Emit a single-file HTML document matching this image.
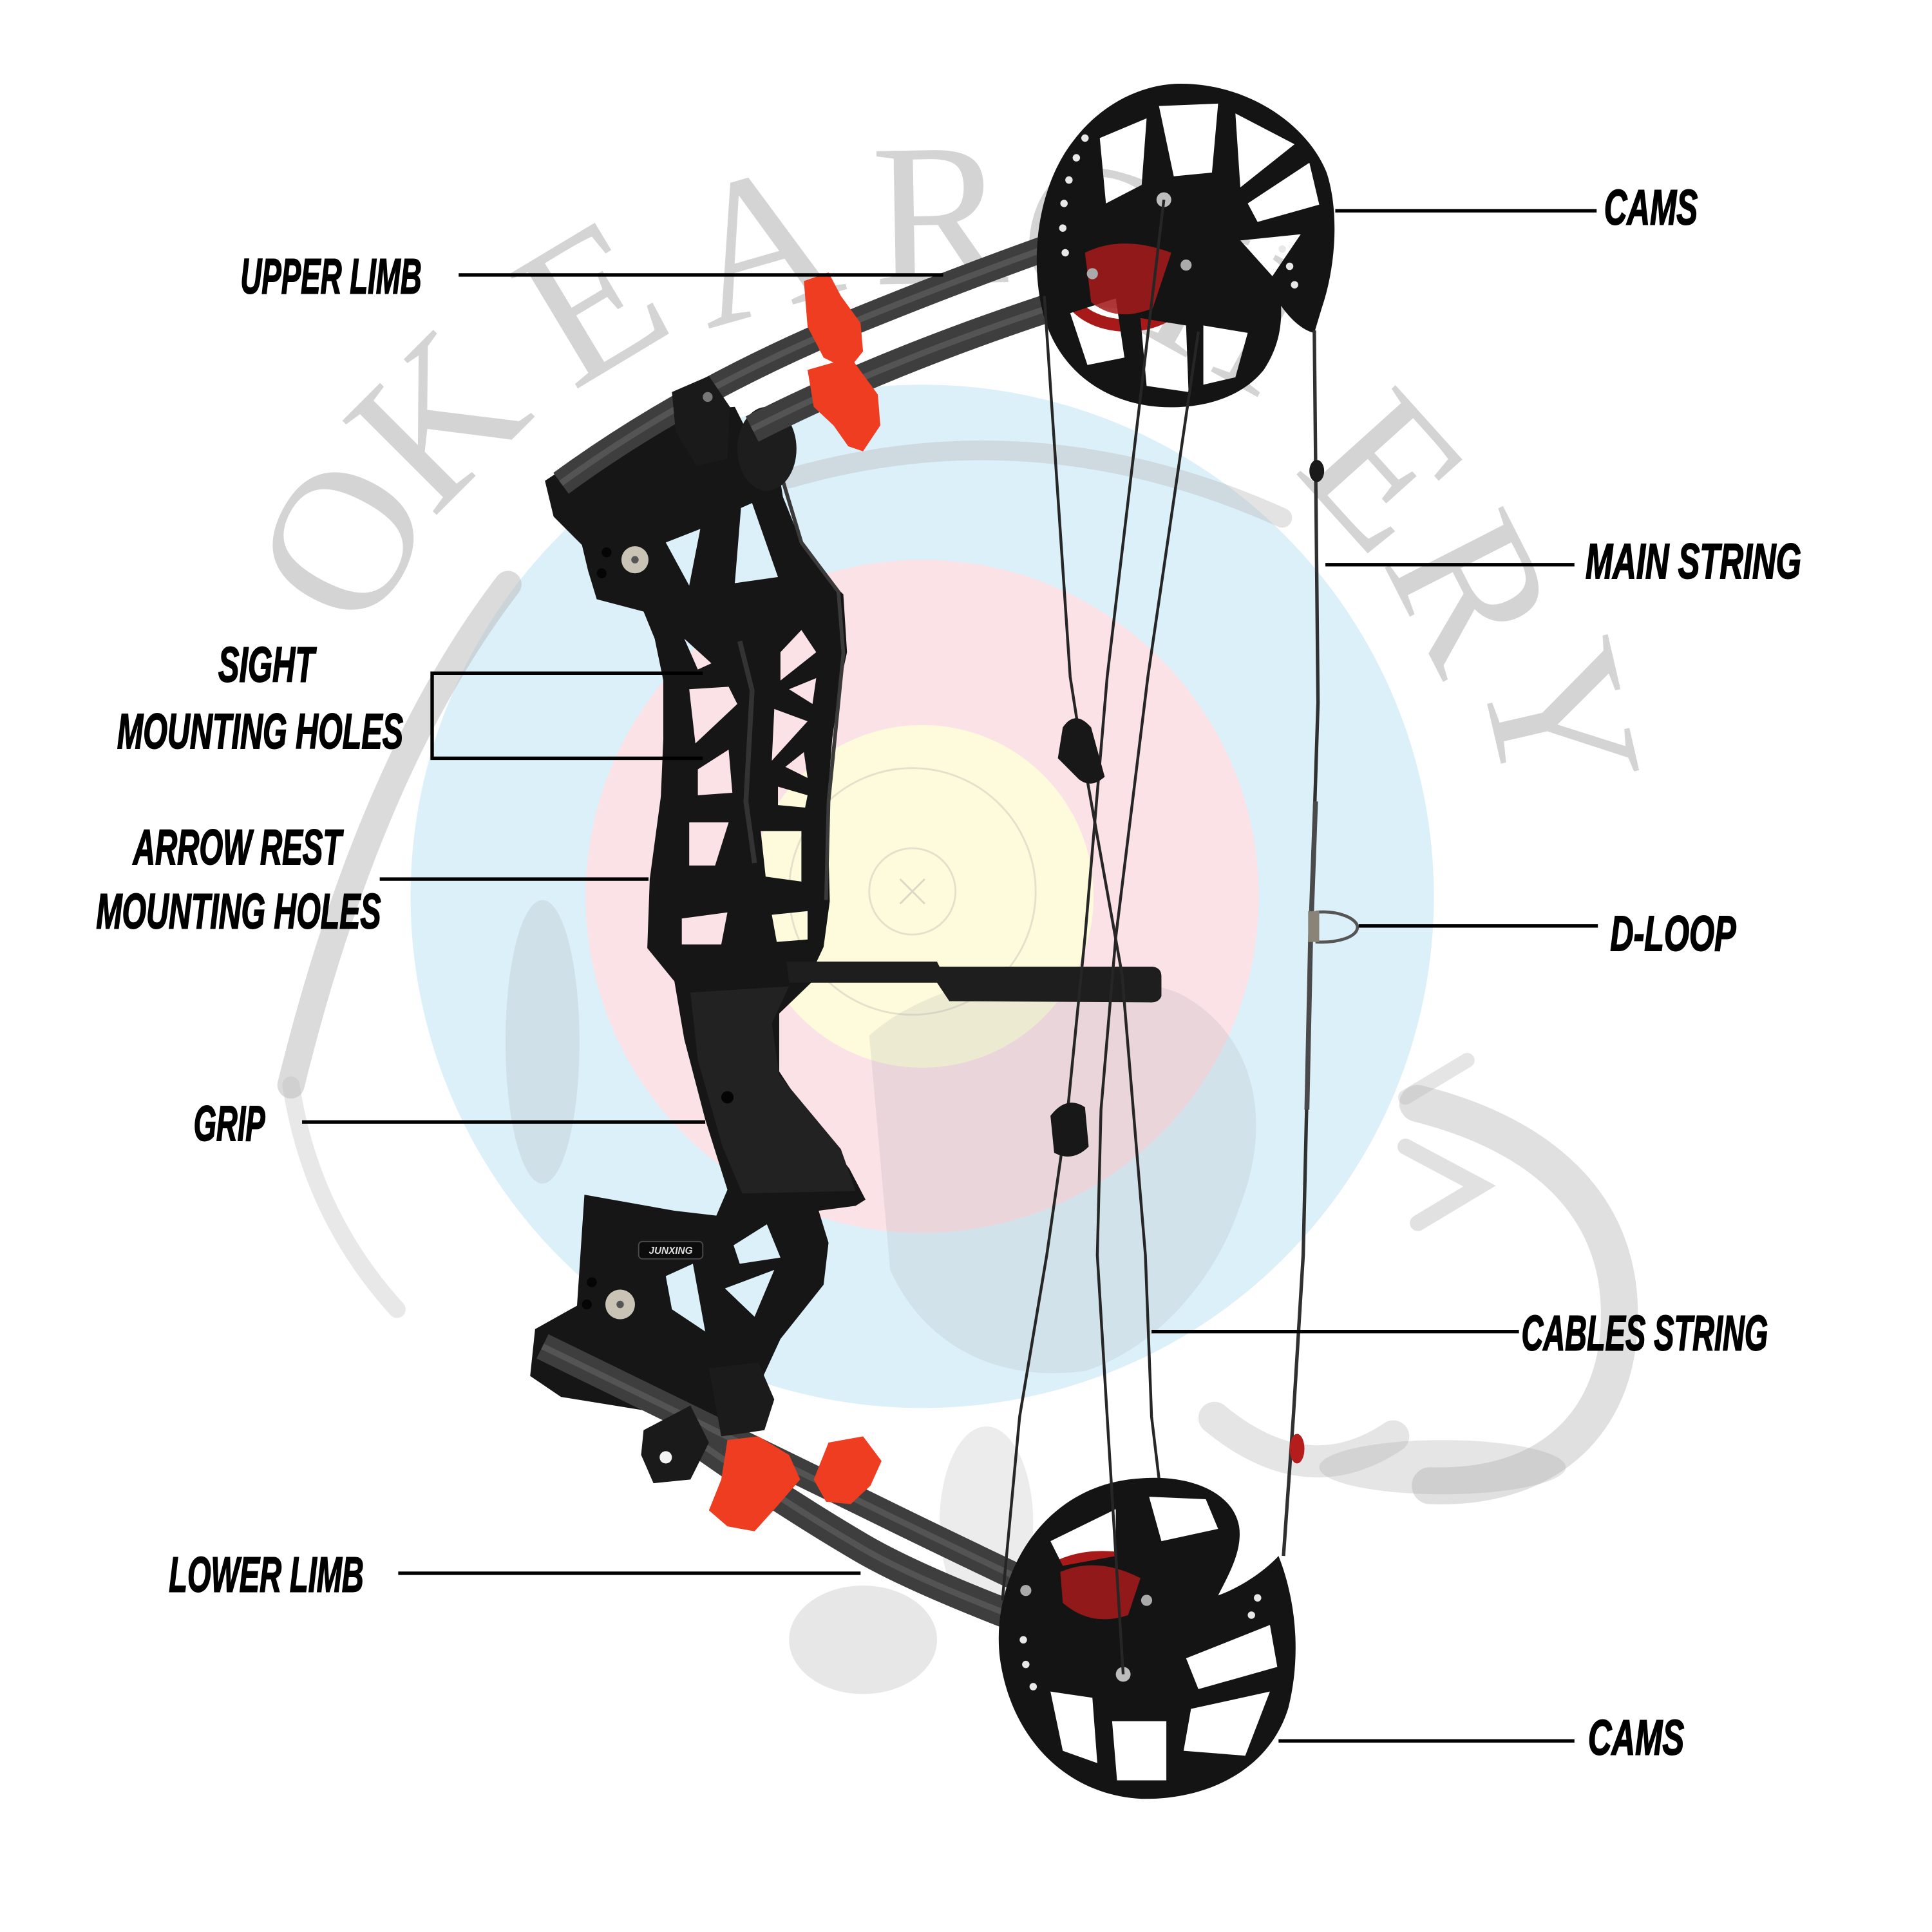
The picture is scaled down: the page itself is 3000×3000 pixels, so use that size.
<!DOCTYPE html>
<html>
<head>
<meta charset="utf-8">
<style>
html,body{margin:0;padding:0;background:#fff;}
svg{display:block;}
</style>
</head>
<body>
<svg xmlns="http://www.w3.org/2000/svg" width="3000" height="3000" viewBox="0 0 1567 1567">
<rect x="0" y="0" width="1567" height="1567" fill="#ffffff"/>

<!-- target -->
<g>
  <circle cx="748" cy="727" r="415" fill="#dcf0fa"/>
  <circle cx="748" cy="727" r="273" fill="#fbe2e6"/>
  <circle cx="748" cy="727" r="139" fill="#fdfbdb"/>
  <circle cx="740" cy="723" r="100" fill="none" stroke="#e4e0cc" stroke-width="1.5"/>
  <circle cx="740" cy="723" r="35" fill="none" stroke="#e4e0cc" stroke-width="1.5"/>
  <path d="M730,713 L750,733 M750,713 L730,733" stroke="#ddd8c4" stroke-width="1.5"/>
</g>

<!-- watermark letters -->
<g font-family="'Liberation Serif', serif" font-size="165" fill="#9a9a9a" opacity="0.42" text-anchor="middle">
  <text x="275" y="437" dy="0.35em" transform="rotate(-62 275 437)">O</text>
  <text x="352" y="338" dy="0.35em" transform="rotate(-45 352 338)">K</text>
  <text x="478" y="242" dy="0.35em" transform="rotate(-31 478 242)">E</text>
  <text x="615" y="195" dy="0.35em" transform="rotate(-16 615 195)">A</text>
  <text x="762" y="172" dy="0.35em" transform="rotate(-1 762 172)">R</text>
  <text x="885" y="187" dy="0.35em" transform="rotate(13 885 187)">C</text>
  <text x="1000" y="245" dy="0.35em" transform="rotate(29 1000 245)">H</text>
  <text x="1125" y="380" dy="0.35em" transform="rotate(48 1125 380)">E</text>
  <text x="1197" y="478" dy="0.35em" transform="rotate(63 1197 478)">R</text>
  <text x="1268" y="582" dy="0.35em" transform="rotate(77 1268 582)">Y</text>
</g>

<!-- watermark animal shapes -->
<g fill="none" stroke-linecap="round">
  <path d="M412,474 Q300,620 236,880" stroke="#b8b8b8" stroke-width="22" opacity="0.5"/>
  <path d="M236,880 Q252,985 322,1062" stroke="#bdbdbd" stroke-width="14" opacity="0.35"/>
  <path d="M640,388 Q840,330 1040,420" stroke="#b8b8b8" stroke-width="16" opacity="0.4"/>
  <path d="M1150,895 C1250,920 1325,980 1312,1090 C1302,1165 1245,1208 1160,1205" stroke="#b5b5b5" stroke-width="30" opacity="0.42"/>
  <path d="M1140,930 L1200,962 L1150,992" stroke="#b5b5b5" stroke-width="13" opacity="0.4"/>
  <path d="M1140,890 L1190,860" stroke="#b5b5b5" stroke-width="12" opacity="0.35"/>
  <path d="M985,1150 Q1060,1212 1130,1165" stroke="#b5b5b5" stroke-width="26" opacity="0.35"/>
</g>
<g fill="#a8a8a8">
  <ellipse cx="440" cy="845" rx="30" ry="115" opacity="0.22"/>
  <path d="M705,840 C760,790 870,775 955,805 C1015,835 1035,905 1005,980 C985,1040 935,1095 880,1112 C805,1122 748,1088 722,1030 Z" opacity="0.2"/>
  <ellipse cx="700" cy="1330" rx="60" ry="44" opacity="0.28"/>
  <ellipse cx="1170" cy="1190" rx="100" ry="22" opacity="0.3"/>
  <ellipse cx="800" cy="1235" rx="38" ry="78" opacity="0.22"/>
</g>

<!-- riser -->
<path fill="#161616" fill-rule="evenodd" d="
M442,390 L478,366 L540,334 L596,330 L614,366 L631,378 L635,403 L652,445 L671,470 L684,482 L687,529 L682,552 L675,599 L671,653 L673,731 L668,768 L660,785 L659,796 L632,822 L632,869 L655,904 L689,948 L702,973 L694,978 L664,982 L672,1008 L668,1042 L633,1086 L615,1125 L600,1150 L560,1150 L455,1133 L430,1116 L434,1078 L468,1059 L474,969 L547,982 L581,986 L590,965 L572,908 L555,843 L547,796 L525,769 L527,713 L536,646 L538,599 L538,552 L531,518 L522,496 L484,486 L477,463 L472,442 L449,419 Z
M540,440 L568,429 L559,475 Z
M601,412 L610,408 L631,468 L596,473 Z
M555,518 L577,538 L566,543 Z
M559,559 L591,557 L598,571 L564,603 Z
M566,624 L591,608 L594,643 L566,645 Z
M633,529 L650,511 L662,529 L633,552 Z
M640,559 L662,550 L659,571 Z
M628,575 L655,585 L626,617 Z
M637,622 L652,610 L655,631 Z
M631,638 L655,645 L653,655 L631,653 Z
M559,667 L591,667 L580,702 L559,702 Z
M617,674 L650,674 L650,715 L621,711 Z
M553,745 L590,740 L585,766 L553,766 Z
M626,742 L655,739 L655,762 L630,764 Z
M595,1010 L622,993 L633,1020 L600,1025 Z
M540,1035 L562,1025 L572,1080 L545,1062 Z
M588,1045 L628,1030 L612,1068 Z
"/>
<path d="M632,380 L650,440 L680,480 L684,530 L672,650 L670,730" fill="none" stroke="#3a3a3a" stroke-width="3"/>
<path d="M600,520 L610,560 L605,650 L612,700" fill="none" stroke="#333" stroke-width="4"/>
<path d="M560,805 L640,800 L626,830 L632,872 L682,932 L694,966 L602,968 L586,930 L566,860 Z" fill="#222"/>
<circle cx="590" cy="890" r="5" fill="#050505"/>
<circle cx="515" cy="454" r="11" fill="#c9c3b5"/>
<circle cx="515" cy="454" r="3" fill="#555"/>
<circle cx="492" cy="448" r="4" fill="#050505"/>
<circle cx="488" cy="465" r="4" fill="#050505"/>
<circle cx="503" cy="1058" r="12" fill="#c9c3b5"/>
<circle cx="503" cy="1058" r="3" fill="#555"/>
<circle cx="480" cy="1040" r="4" fill="#050505"/>
<circle cx="476" cy="1058" r="4" fill="#050505"/>
<rect x="518" y="1007" width="52" height="14" rx="3" fill="#0c0c0c" stroke="#4a4a4a" stroke-width="1"/>
<text x="544" y="1017" font-family="'Liberation Sans', sans-serif" font-size="8" font-weight="bold" font-style="italic" fill="#ddd" text-anchor="middle">JUNXING</text>

<!-- arrow shelf -->
<path d="M638,780 L760,780 L762,784 L935,784 Q942,785 942,792 L942,808 Q940,813 934,813 L770,812 L760,797 L640,797 Z" fill="#1e1e1e"/>

<!-- upper limb -->
<ellipse cx="622" cy="364" rx="24" ry="34" fill="#1d1d1d"/>
<path d="M455,392 Q560,315 700,258 T1000,150" fill="none" stroke="#3e3e3e" stroke-width="21"/>
<path d="M455,392 Q560,315 700,258 T1000,150" fill="none" stroke="#6a6a6a" stroke-width="5" opacity="0.5"/>
<path d="M610,348 Q720,292 865,245" fill="none" stroke="#3e3e3e" stroke-width="23"/>
<path d="M610,348 Q720,292 865,245" fill="none" stroke="#6a6a6a" stroke-width="5" opacity="0.5"/>
<path d="M545,318 L575,305 L592,330 L590,372 L565,378 L548,350 Z" fill="#1a1a1a"/>
<circle cx="574" cy="322" r="4" fill="#777"/>
<path d="M652,228 L672,221 L682,240 L698,262 L700,285 L688,300 L668,290 L655,265 Z" fill="#ee3d20"/>
<path d="M655,300 L690,290 L712,320 L714,345 L700,366 L688,362 L676,345 L660,330 Z" fill="#ee3d20"/>

<!-- lower limb -->
<path d="M440,1092 Q580,1160 698,1218 T958,1342" fill="none" stroke="#3e3e3e" stroke-width="22"/>
<path d="M440,1092 Q580,1160 698,1218 T958,1342" fill="none" stroke="#6a6a6a" stroke-width="5" opacity="0.5"/>
<path d="M560,1165 Q630,1215 698,1255 T960,1360" fill="none" stroke="#3e3e3e" stroke-width="24"/>
<path d="M560,1165 Q630,1215 698,1255 T960,1360" fill="none" stroke="#6a6a6a" stroke-width="5" opacity="0.5"/>
<path d="M575,1110 L615,1105 L628,1135 L620,1160 L585,1165 Z" fill="#1b1b1b"/>
<path d="M522,1160 L560,1140 L575,1170 L560,1200 L530,1203 L520,1180 Z" fill="#1a1a1a"/>
<circle cx="540" cy="1182" r="5" fill="#f2f2f2"/>
<path d="M590,1168 L615,1165 L640,1180 L649,1200 L630,1222 L612,1242 L590,1238 L575,1225 L585,1200 Z" fill="#ee3d20"/>
<path d="M672,1170 L700,1165 L715,1185 L706,1205 L690,1220 L670,1218 L660,1200 Z" fill="#ee3d20"/>

<!-- top cam -->
<ellipse cx="914" cy="232" rx="48" ry="32" fill="none" stroke="#a81a1a" stroke-width="10"/>
<path fill="#141414" fill-rule="evenodd" d="
M953,68 C1010,66 1060,100 1076,140 C1086,170 1084,215 1072,250 L1066,270 C1056,268 1046,258 1039,248 C1040,268 1035,285 1025,300 C1005,325 970,332 940,330 C890,326 855,295 845,250 C835,205 843,150 870,115 C890,88 920,70 953,68 Z
M940,86 L988,84 L983,140 L952,143 Z
M1002,92 L1050,117 L1006,152 Z
M1012,165 L1062,132 L1070,166 L1020,180 Z
M1006,195 L1055,190 L1032,224 Z
M892,112 L930,96 L926,150 L897,165 Z
M868,254 L905,242 L912,290 L882,296 Z
M925,258 L962,264 L964,318 L930,313 Z
M976,264 L1012,270 L1002,306 L976,312 Z
"/>
<path d="M880,205 Q910,190 950,205 L935,250 Q905,262 885,245 Z" fill="#a81a1a" opacity="0.85"/>
<g fill="#e8e8e8">
  <circle cx="880" cy="112" r="3"/><circle cx="873" cy="128" r="3"/><circle cx="867" cy="146" r="3"/>
  <circle cx="863" cy="165" r="3"/><circle cx="862" cy="185" r="3"/><circle cx="864" cy="205" r="3"/>
  <circle cx="1040" cy="202" r="3"/><circle cx="1046" cy="216" r="3"/><circle cx="1050" cy="231" r="3"/>
</g>
<circle cx="944" cy="162" r="6" fill="#bdbdbd"/>
<circle cx="886" cy="222" r="4.5" fill="#aaa"/>
<circle cx="962" cy="215" r="4.5" fill="#aaa"/>

<!-- bottom cam -->
<ellipse cx="894" cy="1289" rx="50" ry="26" fill="none" stroke="#a81a1a" stroke-width="10"/>
<path fill="#141414" fill-rule="evenodd" d="
M926,1199 C965,1196 1000,1210 1005,1238 C1008,1258 996,1278 988,1294 C1005,1288 1025,1275 1037,1262 C1052,1300 1055,1345 1045,1385 C1030,1435 980,1460 926,1459 C865,1456 820,1410 811,1345 C803,1280 845,1203 926,1199 Z
M932,1214 L978,1216 L988,1240 L942,1250 Z
M852,1250 L905,1224 L905,1262 L862,1270 Z
M966,1386 L1030,1372 L1010,1424 L960,1420 Z
M962,1345 L1030,1318 L1036,1352 L972,1370 Z
M902,1396 L946,1396 L946,1444 L906,1444 Z
M852,1372 L886,1377 L890,1430 L862,1420 Z
"/>
<path d="M860,1275 Q890,1262 925,1280 L915,1310 Q885,1320 862,1300 Z" fill="#a81a1a" opacity="0.85"/>
<g fill="#e8e8e8">
  <circle cx="830" cy="1330" r="3"/><circle cx="832" cy="1350" r="3"/><circle cx="838" cy="1368" r="3"/>
  <circle cx="1020" cy="1296" r="3"/><circle cx="1015" cy="1310" r="3"/>
</g>
<circle cx="911" cy="1358" r="6" fill="#bdbdbd"/>
<circle cx="832" cy="1290" r="4.5" fill="#aaa"/>
<circle cx="930" cy="1298" r="4.5" fill="#aaa"/>

<!-- strings -->
<g fill="none" stroke="#262626" stroke-width="2.3" stroke-linejoin="round">
  <polyline points="847,240 868,549 876,600 910,790 929,1018 934,1149 940,1199"/>
  <polyline points="944,162 898,549 880,760 866,900 849,1018 827,1149 813,1298"/>
  <polyline points="972,269 931,549 905,760 893,900 890,1018 898,1149 911,1358"/>
  <polyline points="1066,268 1069,570 1063,760 1057,1018 1049,1149 1041,1262" stroke-width="2.8" stroke="#303030"/>
</g>
<path d="M1067,650 L1063,760 L1060,900" stroke="#4a4a4a" stroke-width="4" fill="none"/>
<path d="M862,590 Q872,575 885,590 L896,630 Q885,640 875,632 L858,615 Z" fill="#181818"/>
<path d="M852,905 Q865,888 880,898 L883,930 Q870,943 855,935 Z" fill="#181818"/>
<ellipse cx="1068" cy="382" rx="6" ry="9" fill="#1a1a1a"/>
<ellipse cx="1052" cy="1175" rx="6" ry="12" fill="#b51c1c"/>
<path d="M1067,740 C1085,738 1101,745 1101,752 C1101,760 1085,765 1067,764" fill="none" stroke="#555" stroke-width="2.5"/>
<rect x="1061" y="739" width="9" height="25" fill="#8a8378"/>

<!-- label lines -->
<g stroke="#000" stroke-width="2.8" fill="none">
  <line x1="1083" y1="171" x2="1295" y2="171"/>
  <line x1="372" y1="223" x2="765" y2="223"/>
  <line x1="1075" y1="458" x2="1277" y2="458"/>
  <polyline points="570,546 350.5,546 350.5,615 570,615"/>
  <line x1="308" y1="713" x2="526" y2="713"/>
  <line x1="1102" y1="751" x2="1296" y2="751"/>
  <line x1="245" y1="910" x2="572" y2="910"/>
  <line x1="934" y1="1080" x2="1232" y2="1080"/>
  <line x1="323" y1="1276" x2="698" y2="1276"/>
  <line x1="1037" y1="1412" x2="1277" y2="1412"/>
</g>

<!-- labels -->
<g font-family="'Liberation Sans Narrow', 'Liberation Sans', sans-serif" font-size="40" font-weight="bold" font-style="italic" fill="#000" stroke="#000" stroke-width="1">
  <text x="1301" y="182" textLength="76" lengthAdjust="spacingAndGlyphs">CAMS</text>
  <text x="195" y="238" textLength="147" lengthAdjust="spacingAndGlyphs">UPPER LIMB</text>
  <text x="1286" y="469" textLength="175" lengthAdjust="spacingAndGlyphs">MAIN STRING</text>
  <text x="177" y="553" textLength="78" lengthAdjust="spacingAndGlyphs">SIGHT</text>
  <text x="95" y="607" textLength="232" lengthAdjust="spacingAndGlyphs">MOUNTING HOLES</text>
  <text x="108" y="701" textLength="169" lengthAdjust="spacingAndGlyphs">ARROW REST</text>
  <text x="78" y="753" textLength="231" lengthAdjust="spacingAndGlyphs">MOUNTING HOLES</text>
  <text x="1306" y="771" textLength="102" lengthAdjust="spacingAndGlyphs">D-LOOP</text>
  <text x="157" y="925" textLength="58" lengthAdjust="spacingAndGlyphs">GRIP</text>
  <text x="1234" y="1095" textLength="200" lengthAdjust="spacingAndGlyphs">CABLES STRING</text>
  <text x="137" y="1291" textLength="158" lengthAdjust="spacingAndGlyphs">LOWER LIMB</text>
  <text x="1288" y="1423" textLength="78" lengthAdjust="spacingAndGlyphs">CAMS</text>
</g>
</svg>
</body>
</html>
